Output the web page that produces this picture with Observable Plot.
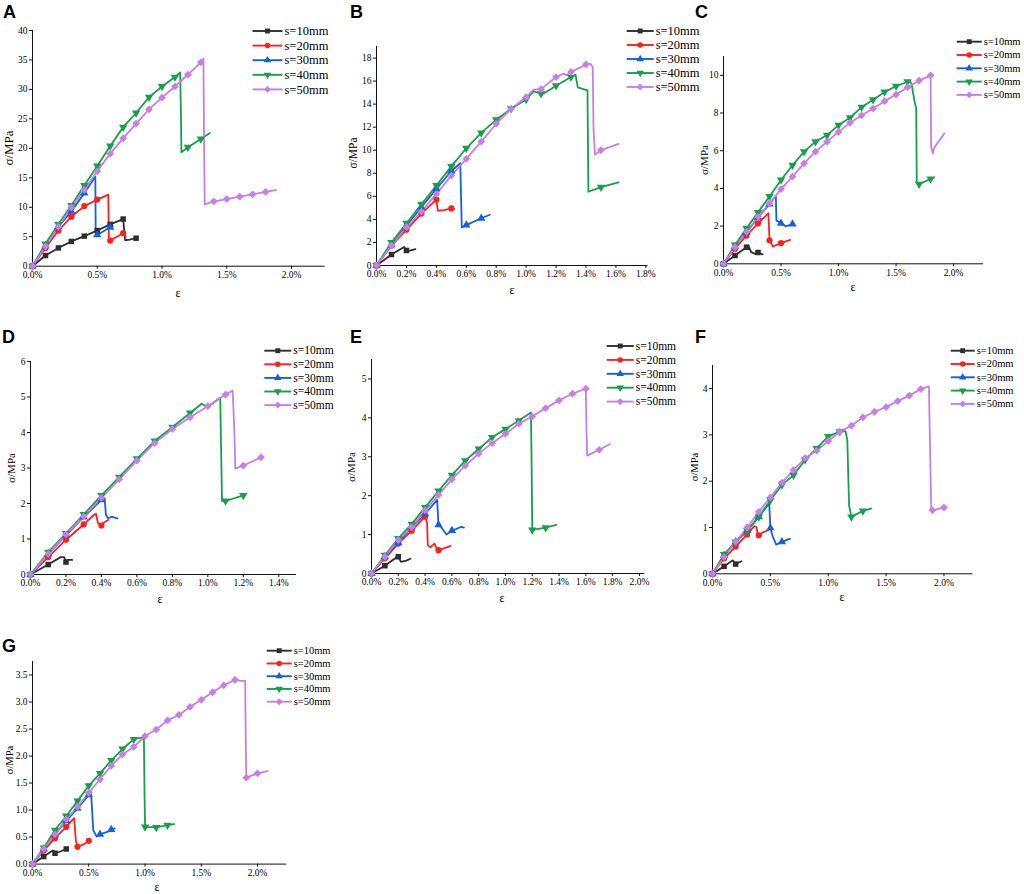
<!DOCTYPE html>
<html><head><meta charset="utf-8">
<script src="https://cdn.jsdelivr.net/npm/d3@7"></script>
<script src="https://cdn.jsdelivr.net/npm/@observablehq/plot@0.6"></script>
<style>
body{margin:0;background:#fff}
#root{position:relative;width:1024px;height:894px;overflow:hidden;background:#fff}
.p{position:absolute}
</style>
</head><body><div id="root"></div>
<script>
// ---------- common series info ----------
const seriesNames = ["s=10mm","s=20mm","s=30mm","s=40mm","s=50mm"];
const seriesColors = ["#2e2e2e","#ff1f1f","#1560dc","#16a04a","#c77ee6"];

// ---------- Panel A (strain %, stress MPa) ----------
const A10 = [[0,0],[0.1,1.81],[0.2,3.1],[0.3,4.2],[0.4,5.1],[0.5,6.05],[0.6,7.1],[0.7,8.0],[0.715,4.4],[0.75,4.5],[0.8,4.75]];
const A20 = [[0,0],[0.1,3.1],[0.2,6.05],[0.3,8.4],[0.4,10.2],[0.5,11.3],[0.585,12.15],[0.59,4.3],[0.6,4.35],[0.7,5.6],[0.72,5.0]];
const A30 = [[0,0],[0.1,3.4],[0.2,6.7],[0.3,9.3],[0.4,12.4],[0.485,15.2],[0.488,5.4],[0.5,5.3],[0.6,6.6],[0.62,6.7]];
const A40 = [[0,0],[0.1,3.8],[0.2,7.1],[0.3,10.3],[0.4,13.7],[0.5,17.0],[0.6,20.4],[0.7,23.6],[0.8,26.0],[0.9,28.7],[1.0,30.5],[1.1,32.1],[1.14,32.9],[1.145,27.5],[1.15,19.35],[1.2,20.2],[1.3,21.6],[1.37,22.6]];
const A50 = [[0,0],[0.1,3.35],[0.2,6.7],[0.3,10.0],[0.4,12.95],[0.5,16.1],[0.6,19.1],[0.7,21.7],[0.8,24.2],[0.9,26.6],[1.0,28.6],[1.1,30.5],[1.2,32.5],[1.3,34.6],[1.32,35.2],[1.325,20.7],[1.33,10.5],[1.4,11.0],[1.5,11.4],[1.6,11.8],[1.7,12.2],[1.8,12.6],[1.88,12.9]];
const A_xTicks = [0,0.5,1.0,1.5,2.0];
const A_yTicks = [0,5,10,15,20,25,30,35,40];

// ---------- Panel B ----------
const B10 = [[0,0],[0.1,0.95],[0.185,1.6],[0.2,1.3],[0.21,1.25],[0.26,1.42]];
const B20 = [[0,0],[0.1,1.73],[0.2,3.1],[0.3,4.5],[0.4,5.72],[0.41,4.75],[0.45,4.8],[0.5,4.95],[0.52,4.9]];
const B30 = [[0,0],[0.1,1.8],[0.2,3.45],[0.3,5.05],[0.4,6.65],[0.5,8.2],[0.56,8.87],[0.565,6.0],[0.57,3.3],[0.6,3.5],[0.7,4.1],[0.757,4.4]];
const B40 = [[0,0],[0.1,2.0],[0.2,3.67],[0.3,5.3],[0.4,6.94],[0.5,8.6],[0.6,10.17],[0.7,11.5],[0.8,12.65],[0.9,13.6],[1.0,14.4],[1.05,15.1],[1.1,14.9],[1.12,14.95],[1.2,15.6],[1.3,16.35],[1.33,16.55],[1.345,15.45],[1.41,15.2],[1.413,10.8],[1.416,6.4],[1.5,6.8],[1.617,7.22]];
const B50 = [[0,0],[0.1,1.73],[0.2,3.32],[0.3,4.68],[0.4,6.2],[0.5,7.8],[0.6,9.25],[0.7,10.75],[0.8,12.3],[0.9,13.6],[1.0,14.6],[1.05,15.25],[1.1,15.3],[1.2,16.35],[1.25,16.65],[1.27,16.5],[1.3,16.8],[1.38,17.3],[1.4,17.45],[1.43,17.5],[1.445,17.2],[1.45,12.0],[1.46,9.62],[1.5,10.0],[1.617,10.55]];
const B_xTicks = [0,0.2,0.4,0.6,0.8,1.0,1.2,1.4,1.6,1.8];
const B_yTicks = [0,2,4,6,8,10,12,14,16,18];

// ---------- Panel C ----------
const C10 = [[0,0],[0.1,0.44],[0.2,0.88],[0.217,0.97],[0.24,0.62],[0.275,0.53],[0.3,0.6],[0.34,0.5]];
const C20 = [[0,0],[0.1,0.8],[0.2,1.5],[0.3,2.15],[0.39,2.68],[0.4,1.25],[0.43,0.92],[0.5,1.1],[0.58,1.27]];
const C30 = [[0,0],[0.1,0.92],[0.2,1.67],[0.3,2.46],[0.4,3.17],[0.455,3.6],[0.46,2.29],[0.49,2.2],[0.5,2.15],[0.54,1.99],[0.6,2.11],[0.61,2.11]];
const C40 = [[0,0],[0.1,1.0],[0.2,1.88],[0.3,2.73],[0.4,3.57],[0.5,4.45],[0.6,5.23],[0.7,5.95],[0.8,6.48],[0.9,6.83],[1.0,7.36],[1.1,7.75],[1.2,8.31],[1.3,8.71],[1.4,9.12],[1.5,9.42],[1.6,9.66],[1.62,9.7],[1.635,9.54],[1.66,8.63],[1.675,8.27],[1.68,4.31],[1.7,4.23],[1.8,4.5],[1.83,4.58]];
const C50 = [[0,0],[0.1,0.88],[0.2,1.7],[0.3,2.5],[0.4,3.2],[0.5,3.96],[0.6,4.63],[0.7,5.33],[0.8,5.95],[0.9,6.48],[1.0,7.0],[1.1,7.48],[1.2,7.87],[1.3,8.24],[1.4,8.63],[1.5,8.98],[1.6,9.37],[1.7,9.72],[1.8,10.0],[1.805,6.2],[1.82,5.85],[1.83,6.15],[1.92,6.92]];
const C_xTicks = [0,0.5,1.0,1.5,2.0];
const C_yTicks = [0,2,4,6,8,10];

// ---------- Panel D ----------
const D10 = [[0,0],[0.1,0.28],[0.17,0.49],[0.19,0.49],[0.2,0.35],[0.21,0.41],[0.235,0.41]];
const D20 = [[0,0],[0.1,0.49],[0.2,0.98],[0.3,1.41],[0.36,1.69],[0.37,1.71],[0.38,1.45],[0.4,1.38],[0.41,1.45],[0.44,1.54]];
const D30 = [[0,0],[0.1,0.58],[0.2,1.1],[0.3,1.62],[0.4,2.1],[0.418,2.16],[0.425,1.69],[0.436,1.59],[0.46,1.62],[0.49,1.58]];
const D40 = [[0,0],[0.1,0.63],[0.2,1.16],[0.3,1.69],[0.4,2.23],[0.5,2.74],[0.6,3.26],[0.7,3.76],[0.8,4.15],[0.9,4.55],[0.965,4.81],[0.98,4.76],[1.01,4.76],[1.07,4.98],[1.075,3.49],[1.08,2.07],[1.1,2.07],[1.2,2.23]];
const D50 = [[0,0],[0.1,0.58],[0.2,1.13],[0.3,1.64],[0.4,2.16],[0.5,2.68],[0.6,3.21],[0.7,3.7],[0.8,4.1],[0.9,4.43],[1.0,4.74],[1.1,5.07],[1.14,5.18],[1.15,4.0],[1.155,2.98],[1.2,3.07],[1.3,3.3]];
const D_xTicks = [0,0.2,0.4,0.6,0.8,1.0,1.2,1.4];
const D_yTicks = [0,1,2,3,4,5,6];

// ---------- Panel E ----------
const E10 = [[0,0],[0.1,0.2],[0.18,0.4],[0.2,0.43],[0.22,0.3],[0.26,0.33],[0.29,0.38]];
const E20 = [[0,0],[0.1,0.39],[0.2,0.77],[0.3,1.1],[0.4,1.46],[0.415,1.3],[0.42,0.73],[0.44,0.67],[0.47,0.77],[0.49,0.62],[0.5,0.6],[0.52,0.62],[0.59,0.71]];
const E30 = [[0,0],[0.1,0.43],[0.2,0.79],[0.3,1.19],[0.4,1.53],[0.49,1.89],[0.5,1.25],[0.52,1.19],[0.56,1.0],[0.6,1.1],[0.63,1.14],[0.67,1.2],[0.69,1.18]];
const E40 = [[0,0],[0.1,0.47],[0.2,0.9],[0.3,1.27],[0.4,1.7],[0.5,2.12],[0.6,2.53],[0.7,2.9],[0.8,3.2],[0.9,3.5],[1.0,3.71],[1.1,3.93],[1.19,4.14],[1.195,2.88],[1.2,1.12],[1.3,1.18],[1.38,1.25]];
const E50 = [[0,0],[0.1,0.43],[0.2,0.86],[0.3,1.19],[0.4,1.62],[0.5,2.02],[0.6,2.42],[0.7,2.77],[0.8,3.08],[0.9,3.35],[1.0,3.59],[1.1,3.85],[1.2,4.04],[1.3,4.25],[1.4,4.45],[1.5,4.62],[1.6,4.75],[1.605,3.65],[1.61,3.03],[1.7,3.18],[1.78,3.33]];
const E_xTicks = [0,0.2,0.4,0.6,0.8,1.0,1.2,1.4,1.6,1.8,2.0];
const E_yTicks = [0,1,2,3,4,5];

// ---------- Panel F ----------
const F10 = [[0,0],[0.1,0.16],[0.175,0.29],[0.2,0.21],[0.25,0.27]];
const F20 = [[0,0],[0.1,0.33],[0.2,0.59],[0.3,0.85],[0.36,1.03],[0.38,1.01],[0.39,0.85],[0.4,0.83],[0.43,0.89],[0.48,0.94]];
const F30 = [[0,0],[0.1,0.4],[0.2,0.69],[0.3,0.94],[0.4,1.23],[0.49,1.52],[0.5,0.99],[0.52,0.81],[0.55,0.63],[0.6,0.69],[0.67,0.76]];
const F40 = [[0,0],[0.1,0.42],[0.2,0.69],[0.3,0.93],[0.4,1.23],[0.5,1.59],[0.6,1.92],[0.7,2.13],[0.8,2.46],[0.9,2.71],[1.0,2.97],[1.1,3.07],[1.15,3.08],[1.165,2.89],[1.18,1.48],[1.2,1.23],[1.3,1.36],[1.37,1.41]];
const F50 = [[0,0],[0.1,0.36],[0.2,0.69],[0.3,1.0],[0.4,1.34],[0.5,1.65],[0.6,1.97],[0.7,2.24],[0.8,2.5],[0.9,2.66],[1.0,2.87],[1.1,3.07],[1.2,3.2],[1.3,3.38],[1.4,3.5],[1.5,3.6],[1.6,3.73],[1.7,3.85],[1.8,3.99],[1.87,4.05],[1.88,2.71],[1.89,1.41],[1.9,1.37],[2.0,1.43]];
const F_xTicks = [0,0.5,1.0,1.5,2.0];
const F_yTicks = [0,1,2,3,4];

// ---------- Panel G ----------
const G10 = [[0,0],[0.1,0.14],[0.18,0.25],[0.19,0.24],[0.2,0.2],[0.23,0.22],[0.3,0.28]];
const G20 = [[0,0],[0.1,0.25],[0.2,0.48],[0.3,0.69],[0.37,0.85],[0.385,0.44],[0.4,0.32],[0.46,0.37],[0.5,0.43]];
const G30 = [[0,0],[0.1,0.28],[0.2,0.55],[0.3,0.8],[0.4,1.03],[0.5,1.28],[0.52,1.34],[0.54,0.63],[0.57,0.51],[0.6,0.55],[0.67,0.6],[0.7,0.64],[0.73,0.66]];
const G40 = [[0,0],[0.1,0.3],[0.2,0.63],[0.3,0.89],[0.4,1.17],[0.5,1.45],[0.6,1.68],[0.7,1.92],[0.8,2.13],[0.9,2.31],[0.94,2.33],[0.99,2.34],[0.995,1.42],[1.0,0.69],[1.1,0.68],[1.2,0.72],[1.26,0.74]];
const G50 = [[0,0],[0.1,0.28],[0.2,0.55],[0.3,0.83],[0.4,1.06],[0.5,1.32],[0.6,1.57],[0.7,1.82],[0.8,2.03],[0.9,2.17],[1.0,2.37],[1.1,2.49],[1.2,2.66],[1.3,2.76],[1.4,2.91],[1.5,3.04],[1.6,3.18],[1.7,3.31],[1.8,3.41],[1.85,3.39],[1.89,3.39],[1.895,2.34],[1.9,1.6],[2.0,1.68],[2.09,1.72]];
const G_xTicks = [0,0.5,1.0,1.5,2.0];
const G_yTicks = [0,0.5,1.0,1.5,2.0,2.5,3.0,3.5];

// ---------- symbols ----------
const sqrt3 = Math.sqrt(3);
const triangleDown = {draw(ctx, size){ const y = -Math.sqrt(size/(sqrt3*3)); ctx.moveTo(0,-y*2); ctx.lineTo(-sqrt3*y, y); ctx.lineTo(sqrt3*y, y); ctx.closePath(); }};
const diamondEq = {draw(ctx, size){ const h = Math.sqrt(size/2); ctx.moveTo(0,-h); ctx.lineTo(h,0); ctx.lineTo(0,h); ctx.lineTo(-h,0); ctx.closePath(); }};
const seriesSymbols = [d3.symbolSquare, d3.symbolCircle, d3.symbolTriangle, triangleDown, diamondEq];
const isMarker = d => Math.abs(d[0]*10 - Math.round(d[0]*10)) < 0.03;

const FONT = "'Liberation Serif','Times New Roman',serif";

// ---------- panel layout ----------
const panels = [
  {letter:"A", series:[A10,A20,A30,A40,A50], xMax:2.26, yMax:40, xT:A_xTicks, yT:A_yTicks, yF:d=>String(d),
   x0:32.3, y0:265.7, xEnd:325, yTop:30, letterXY:[3,18], yLab:[12.5,148,13], xLab:[178,297],
   leg:{x:252.5, y:31, dy:14.6, len:30, fs:12.5}},
  {letter:"B", series:[B10,B20,B30,B40,B50], xMax:1.815, yMax:19, xT:B_xTicks, yT:B_yTicks, yF:d=>String(d),
   x0:375.7, y0:265, xEnd:647.3, yTop:46, letterXY:[350,18], yLab:[357,153,11.5], xLab:[512,294],
   leg:{x:626.7, y:31, dy:14, len:27, fs:12.5}},
  {letter:"C", series:[C10,C20,C30,C40,C50], xMax:2.26, yMax:11, xT:C_xTicks, yT:C_yTicks, yF:d=>String(d),
   x0:723.3, y0:263.3, xEnd:983.3, yTop:56, letterXY:[695,18], yLab:[708,160,11], xLab:[853,291],
   leg:{x:956.7, y:41.7, dy:13.3, len:25, fs:10.5}},
  {letter:"D", series:[D10,D20,D30,D40,D50], xMax:1.5, yMax:6, xT:D_xTicks, yT:D_yTicks, yF:d=>String(d),
   x0:30, y0:574, xEnd:296, yTop:361, letterXY:[2,343], yLab:[15,468,11], xLab:[160,603],
   leg:{x:264.3, y:350.7, dy:13.6, len:27, fs:11.5}},
  {letter:"E", series:[E10,E20,E30,E40,E50], xMax:2.04, yMax:5.5, xT:E_xTicks, yT:E_yTicks, yF:d=>String(d),
   x0:370.7, y0:573.3, xEnd:644, yTop:359.3, letterXY:[350,343], yLab:[355,467,11], xLab:[502,602],
   leg:{x:606.7, y:346, dy:13.9, len:27, fs:11.5}},
  {letter:"F", series:[F10,F20,F30,F40,F50], xMax:2.25, yMax:4.5, xT:F_xTicks, yT:F_yTicks, yF:d=>String(d),
   x0:712.3, y0:573.3, xEnd:972.7, yTop:365, letterXY:[695,343], yLab:[698,467,10.5], xLab:[842,601],
   leg:{x:950.7, y:350.7, dy:13.3, len:24, fs:10.5}},
  {letter:"G", series:[G10,G20,G30,G40,G50], xMax:2.26, yMax:3.75, xT:G_xTicks, yT:G_yTicks, yF:d=>d.toFixed(1),
   x0:31.7, y0:863.3, xEnd:286, yTop:660.7, letterXY:[2,652], yLab:[13,760,10.5], xLab:[157,891],
   leg:{x:266.7, y:650.7, dy:12.75, len:25, fs:10.5}}
];

const root = document.getElementById("root");
const ml = 34, mr = 6, mt = 6, mb = 22;

for (const p of panels) {
  const marks = [
    Plot.ruleY([0], {stroke:"#111", strokeWidth:1}),
    Plot.ruleX([0], {stroke:"#111", strokeWidth:1}),
    Plot.axisX({ticks:p.xT, tickSize:3, tickPadding:2, tickFormat:d=>d.toFixed(1)+"%", label:null, fill:"#000", stroke:"#111", fontSize:9.5, fontFamily:FONT}),
    Plot.axisY({ticks:p.yT, tickSize:3, tickPadding:2, tickFormat:p.yF, label:null, fill:"#000", stroke:"#111", fontSize:9.5, fontFamily:FONT})
  ];
  p.series.forEach((s, i) => {
    marks.push(Plot.line(s, {x:d=>d[0], y:d=>d[1], stroke:seriesColors[i], strokeWidth:1.8, strokeLinejoin:"round"}));
  });
  p.series.forEach((s, i) => {
    marks.push(Plot.dot(s.filter(isMarker), {x:d=>d[0], y:d=>d[1], fill:seriesColors[i], stroke:"none", symbol:seriesSymbols[i], r:3.1}));
  });
  const chart = Plot.plot({
    width: (p.xEnd - p.x0) + ml + mr,
    height: (p.y0 - p.yTop) + mt + mb,
    marginLeft: ml, marginRight: mr, marginTop: mt, marginBottom: mb,
    x: {domain:[0, p.xMax]},
    y: {domain:[0, p.yMax]},
    style: {fontFamily: FONT, fontSize:"9.5px", color:"#000", background:"transparent", overflow:"visible"},
    marks
  });
  chart.classList.add("p");
  chart.style.left = (p.x0 - ml) + "px";
  chart.style.top = (p.yTop - mt) + "px";
  root.appendChild(chart);
}

// ---------- overlay: panel letters, axis titles, legends ----------
const ov = d3.select(root).append("svg").attr("class","p")
  .attr("width",1024).attr("height",894).style("left","0px").style("top","0px").style("pointer-events","none");

for (const p of panels) {
  ov.append("text").attr("x",p.letterXY[0]).attr("y",p.letterXY[1])
    .attr("font-family","'Liberation Sans',Arial,sans-serif").attr("font-weight","bold").attr("font-size",18).attr("fill","#000")
    .text(p.letter);
  ov.append("text").attr("transform",`translate(${p.yLab[0]},${p.yLab[1]}) rotate(-90)`)
    .attr("text-anchor","middle").attr("font-family",FONT).attr("font-size",p.yLab[2]).attr("fill","#000")
    .text("σ/MPa");
  ov.append("text").attr("x",p.xLab[0]).attr("y",p.xLab[1]).attr("text-anchor","middle")
    .attr("font-family",FONT).attr("font-size",12).attr("fill","#000").text("ε");
  const L = p.leg;
  seriesNames.forEach((name, i) => {
    const cy = L.y + i*L.dy;
    ov.append("line").attr("x1",L.x).attr("x2",L.x+L.len).attr("y1",cy).attr("y2",cy)
      .attr("stroke",seriesColors[i]).attr("stroke-width",1.9);
    ov.append("path").attr("transform",`translate(${L.x+L.len/2},${cy})`)
      .attr("d", d3.symbol(seriesSymbols[i], 24)()).attr("fill",seriesColors[i]);
    ov.append("text").attr("x",L.x+L.len+2).attr("y",cy+L.fs*0.33)
      .attr("font-family",FONT).attr("font-size",L.fs).attr("fill","#000").text(name);
  });
}
</script></body></html>
